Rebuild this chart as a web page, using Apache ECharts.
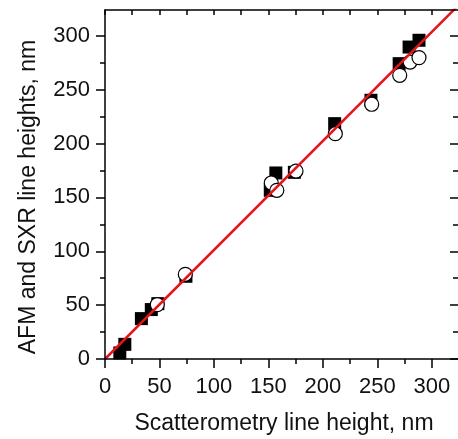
<!DOCTYPE html>
<html>
<head>
<meta charset="utf-8">
<script src="https://cdn.jsdelivr.net/npm/echarts@6/dist/echarts.min.js"></script>
<style>
html,body{margin:0;padding:0;background:#fff;}
#chart{width:458px;height:439px;}
</style>
</head>
<body>
<div id="chart"></div>
<script>
// Data
const squaresX = [13.6, 18.2, 33.4, 42.5, 48.5, 74.3, 151.7, 156.8, 173.8, 210.8, 244.1, 270.0, 279.1, 288.2];
const squaresY = [5.6, 13.6, 37.5, 45.9, 51.4, 76.8, 156.6, 172.7, 173.3, 218.5, 240.2, 274.2, 289.6, 295.9];
const circlesX = [48.0, 73.7, 152.6, 157.7, 175.3, 211.4, 244.8, 270.5, 280.0, 288.2];
const circlesY = [50.5, 78.6, 163.4, 156.6, 174.5, 209.2, 236.5, 263.4, 275.7, 279.8];
const fitLineX = [0, 324];
const fitLineY = [0, 328];
const xMajorTicks = [0, 50, 100, 150, 200, 250, 300];
const xMinorTicks = [25, 75, 125, 175, 225, 275];
const yMajorTicks = [0, 50, 100, 150, 200, 250, 300];
const yMinorTicks = [25, 75, 125, 175, 225, 275];
const xTitle = 'Scatterometry line height, nm';
const yTitle = 'AFM and SXR line heights, nm';

const X_MIN = 0, X_MAX = 324, Y_MIN = 0, Y_MAX = 324;
const FONT = '"Liberation Sans", Arial, sans-serif';
const TEXT_COLOR = '#111';
const axisLineStyle = { color: '#000', width: 1.5 };
const allX = xMajorTicks.concat(xMinorTicks).sort((a, b) => a - b);

function zip(a, b) { return a.map((v, i) => [v, b[i]]); }

const chart = echarts.init(document.getElementById('chart'), null, { renderer: 'canvas' });

function xAx(opts) {
  return Object.assign({
    type: 'value', min: X_MIN, max: X_MAX, gridIndex: 0,
    splitLine: { show: false }, z: 5
  }, opts);
}
function yAx(opts) {
  return Object.assign({
    type: 'value', min: Y_MIN, max: Y_MAX, gridIndex: 0,
    splitLine: { show: false }, z: 5
  }, opts);
}

chart.setOption({
  animation: false,
  backgroundColor: '#fff',
  grid: { left: 105, right: -3, top: 10, bottom: 80 },
  xAxis: [
    xAx({
      position: 'bottom',
      axisLine: { show: true, onZero: false, lineStyle: axisLineStyle },
      axisTick: { show: true, length: 9, customValues: xMajorTicks, lineStyle: { color: '#000', width: 1.5 } },
      axisLabel: { show: true, customValues: xMajorTicks, margin: 17, fontSize: 22, color: TEXT_COLOR, fontFamily: FONT }
    }),
    xAx({
      position: 'bottom',
      axisLine: { show: false, onZero: false },
      axisTick: { show: true, length: 5, customValues: xMinorTicks, lineStyle: { color: '#000', width: 1.5 } },
      axisLabel: { show: false }
    }),
    xAx({
      position: 'top',
      axisLine: { show: true, onZero: false, lineStyle: axisLineStyle },
      axisTick: { show: true, inside: true, length: 5, customValues: allX, lineStyle: { color: '#000', width: 1.5 } },
      axisLabel: { show: false }
    })
  ],
  yAxis: [
    yAx({
      position: 'left',
      axisLine: { show: true, onZero: false, lineStyle: axisLineStyle },
      axisTick: { show: true, length: 9, customValues: yMajorTicks, lineStyle: { color: '#000', width: 1.5 } },
      axisLabel: { show: true, customValues: yMajorTicks, margin: 15, fontSize: 22, color: TEXT_COLOR, fontFamily: FONT }
    }),
    yAx({
      position: 'left',
      axisLine: { show: false, onZero: false },
      axisTick: { show: true, length: 5, customValues: yMinorTicks, lineStyle: { color: '#000', width: 1.5 } },
      axisLabel: { show: false }
    }),
    yAx({
      position: 'right',
      axisLine: { show: false, onZero: false },
      axisTick: { show: true, inside: true, length: 8, customValues: yMajorTicks, lineStyle: { color: '#000', width: 1.5 } },
      axisLabel: { show: false }
    }),
    yAx({
      position: 'right',
      axisLine: { show: false, onZero: false },
      axisTick: { show: true, inside: true, length: 5, customValues: yMinorTicks, lineStyle: { color: '#000', width: 1.5 } },
      axisLabel: { show: false }
    })
  ],
  series: [
    {
      type: 'scatter', xAxisIndex: 0, yAxisIndex: 0,
      symbol: 'rect', symbolSize: 13,
      itemStyle: { color: '#000', opacity: 1 },
      data: zip(squaresX, squaresY), z: 2
    },
    {
      type: 'scatter', xAxisIndex: 0, yAxisIndex: 0,
      symbol: 'circle', symbolSize: 14,
      itemStyle: { color: '#fff', borderColor: '#000', borderWidth: 1.2, opacity: 1 },
      data: zip(circlesX, circlesY), z: 3
    },
    {
      type: 'line', xAxisIndex: 0, yAxisIndex: 0,
      showSymbol: false, symbol: 'none', clip: true,
      lineStyle: { color: '#e5131b', width: 2.5 },
      data: zip(fitLineX, fitLineY), z: 4
    }
  ],
  graphic: [
    {
      type: 'text', x: 284, y: 424,
      style: { text: xTitle, font: '23px ' + FONT, fill: TEXT_COLOR, textAlign: 'center', textVerticalAlign: 'middle' }
    },
    {
      type: 'text', x: 29, y: 197, rotation: Math.PI / 2,
      style: { text: yTitle, font: '23px ' + FONT, fill: TEXT_COLOR, textAlign: 'center', textVerticalAlign: 'middle' }
    }
  ]
});
</script>
</body>
</html>
